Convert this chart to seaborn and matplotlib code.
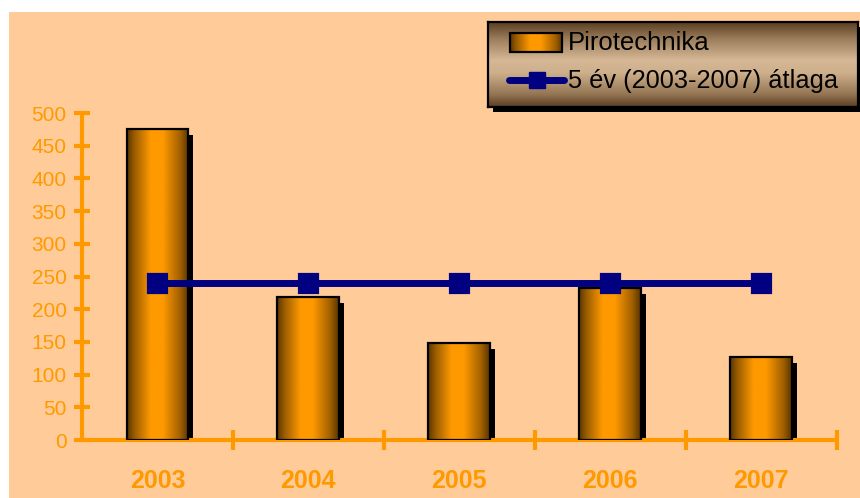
import numpy as np
import pandas as pd
import matplotlib
matplotlib.use("Agg")
import matplotlib.pyplot as plt
import seaborn as sns
from matplotlib.colors import LinearSegmentedColormap
from matplotlib.patches import Rectangle
from matplotlib.transforms import ScaledTranslation

years = ["2003", "2004", "2005", "2006", "2007"]
pirotechnika = [475, 218, 149, 233, 127]
atlag = [240, 240, 240, 240, 240]
yticks = [0, 50, 100, 150, 200, 250, 300, 350, 400, 450, 500]
bar_label = "Pirotechnika"
line_label = "5 év (2003-2007) átlaga"

ORANGE = "#FF9900"
PEACH = "#FFCC99"
NAVY = "#000080"

sns.set_theme(style="white")
plt.rcParams["font.family"] = ["Liberation Sans", "DejaVu Sans"]

W, H = 860, 498
fig = plt.figure(figsize=(W / 100, H / 100), dpi=100, facecolor="white")

# peach background panel
fig.patches.append(Rectangle((9 / W, 0), (W - 9) / W, (H - 12) / H,
                             transform=fig.transFigure, facecolor=PEACH,
                             edgecolor="none", zorder=-10))

ax = fig.add_axes([82 / W, (H - 440) / H, 754.5 / W, 327 / H])
ax.set_facecolor("none")

df = pd.DataFrame({"year": years, "value": pirotechnika, "avg": atlag})
sns.barplot(data=df, x="year", y="value", ax=ax, width=0.41, color=ORANGE,
            edgecolor="black", linewidth=1.6, zorder=4, saturation=1)

bar_cmap = LinearSegmentedColormap.from_list(
    "bar", [(0.0, "#5A3600"), (0.12, "#9A5C00"), (0.38, "#FF9900"),
            (0.58, "#FF9900"), (0.86, "#A26000"), (1.0, "#583500")])
grad = np.linspace(0, 1, 256).reshape(1, -1)
shadow_off = ScaledTranslation(5 / 100, -6 / 100, fig.dpi_scale_trans)
for p in list(ax.patches):
    x, y = p.get_x(), p.get_y()
    w, h = p.get_width(), p.get_height()
    sh = Rectangle((x, y), w, h, facecolor="black", edgecolor="none",
                   transform=ax.transData + shadow_off, zorder=2)
    ax.add_patch(sh)
    im = ax.imshow(grad, cmap=bar_cmap, extent=(x, x + w, y, y + h),
                   aspect="auto", zorder=3, interpolation="bilinear")
    im.set_clip_path(p)
    p.set_facecolor("none")

sns.pointplot(data=df, x="year", y="avg", ax=ax, color=NAVY, marker="s",
              markersize=11.5, linewidth=5, errorbar=None, zorder=6)

ax.set_aspect("auto")
ax.set_xlim(-0.5, 4.5)
ax.set_ylim(0, 500)

for s in ["top", "right"]:
    ax.spines[s].set_visible(False)
for s in ["left", "bottom"]:
    ax.spines[s].set_color(ORANGE)
    ax.spines[s].set_linewidth(3)
    ax.spines[s].set_capstyle("round")

ax.set_yticks(yticks)
ax.set_yticklabels([str(v) for v in yticks])
ax.tick_params(axis="y", which="major", direction="inout", length=12, width=3,
               color=ORANGE, labelcolor=ORANGE, labelsize=15, pad=5, left=True)

ax.set_xticks([0.5, 1.5, 2.5, 3.5, 4.5])
ax.set_xticklabels([""] * 5)
ax.tick_params(axis="x", which="major", direction="inout", length=14, width=3,
               color=ORANGE, bottom=True)
ax.set_xticks(range(len(years)), minor=True)
ax.set_xticklabels(years, minor=True)
ax.tick_params(axis="x", which="minor", length=0, pad=21, labelcolor=ORANGE,
               labelsize=18)
for t in ax.get_xticklabels(minor=True):
    t.set_fontweight("bold")
ax.set_xlabel("")
ax.set_ylabel("")

# legend box
lx0, ly0, lw, lh = 488, 22, 370, 85
fig.patches.append(Rectangle(((lx0 + 5) / W, (H - ly0 - lh - 5) / H), lw / W, lh / H,
                             transform=fig.transFigure, facecolor="black",
                             edgecolor="none", zorder=5))
lax = fig.add_axes([lx0 / W, (H - ly0 - lh) / H, lw / W, lh / H], zorder=10)
leg_cmap = LinearSegmentedColormap.from_list(
    "leg", [(0.0, "#5A3E22"), (0.2, "#9C7E5C"), (0.45, "#D6B896"),
            (0.6, "#CDAF8C"), (0.85, "#957654"), (1.0, "#5A3E22")])
lax.imshow(np.linspace(0, 1, 256).reshape(-1, 1), cmap=leg_cmap,
           extent=(0, lw, lh, 0), aspect="auto", interpolation="bilinear")
lax.set_xlim(0, lw)
lax.set_ylim(lh, 0)
lax.set_xticks([])
lax.set_yticks([])
for s in lax.spines.values():
    s.set_color("black")
    s.set_linewidth(1.6)

sw = lax.imshow(grad, cmap=bar_cmap, extent=(22, 74, 30, 11), aspect="auto",
                interpolation="bilinear", zorder=2)
lax.add_patch(Rectangle((22, 11), 52, 19, facecolor="none", edgecolor="black",
                        linewidth=1.6, zorder=3))
lax.plot([21, 76], [58, 58], color=NAVY, linewidth=5, solid_capstyle="round", zorder=3)
lax.plot([49], [58], marker="s", markersize=11.5, color=NAVY, zorder=4)
lax.text(80, 21, bar_label, fontsize=18.5, color="black", va="center", ha="left")
lax.text(80, 59, line_label, fontsize=18.3, color="black", va="center", ha="left")
lax.set_xlim(0, lw)
lax.set_ylim(lh, 0)

fig.savefig("out.png", dpi=100, facecolor="white")
